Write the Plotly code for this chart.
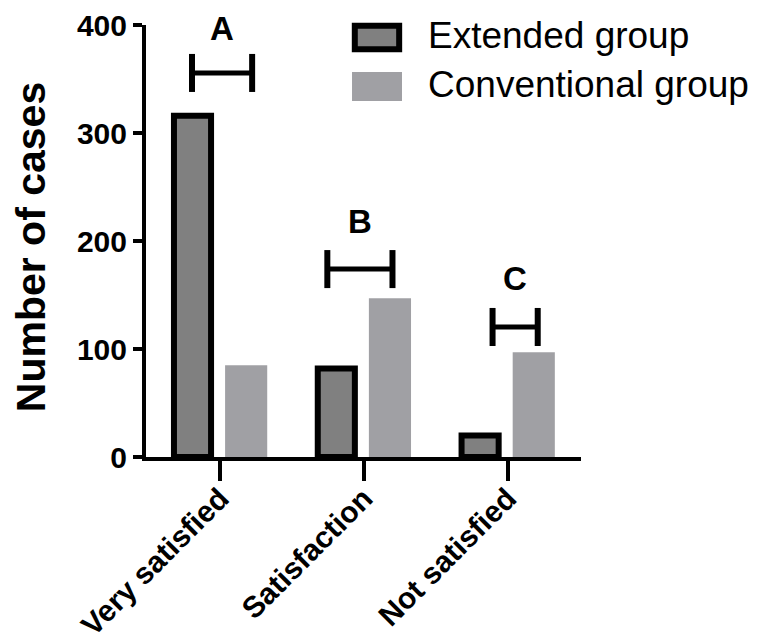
import plotly.graph_objects as go

# ---- data ----
categories = ["Very satisfied", "Satisfaction", "Not satisfied"]
extended = [316, 82, 20]
conventional = [85, 147, 97]
series_names = ["Extended group", "Conventional group"]
y_title = "Number of cases"

y_ticks = [0, 100, 200, 300, 400]

bracket_labels = ["A", "B", "C"]
bracket_x0 = [-0.195, 0.746, 1.895]
bracket_x1 = [0.223, 1.199, 2.209]
bracket_y = [355.6, 174.0, 120.4]
bracket_half = 17.6
label_y = [397.0, 218.0, 165.0]

# ---- styles ----
FONT = "Liberation Sans, Arial, sans-serif"
EXT_FILL = "#808080"
CONV_FILL = "#a0a0a4"

fig = go.Figure()
fig.add_trace(go.Bar(
    x=categories, y=extended, name=series_names[0],
    marker=dict(color=EXT_FILL, line=dict(color="black", width=6)),
    offset=-0.3206, width=0.258, showlegend=False,
))
fig.add_trace(go.Bar(
    x=categories, y=conventional, name=series_names[1],
    marker=dict(color=CONV_FILL, line=dict(width=0)),
    offset=0.035, width=0.293, showlegend=False,
))

shapes = []
annotations = []
for lab, x0, x1, yb, ly in zip(bracket_labels, bracket_x0, bracket_x1, bracket_y, label_y):
    ln = dict(color="black", width=5)
    shapes.append(dict(type="line", xref="x", yref="y", x0=x0, x1=x1, y0=yb, y1=yb, line=ln))
    shapes.append(dict(type="line", xref="x", yref="y", x0=x0, x1=x0,
                       y0=yb - bracket_half, y1=yb + bracket_half, line=dict(color="black", width=6)))
    shapes.append(dict(type="line", xref="x", yref="y", x0=x1, x1=x1,
                       y0=yb - bracket_half, y1=yb + bracket_half, line=dict(color="black", width=6)))
    annotations.append(dict(x=(x0 + x1) / 2, y=ly, xref="x", yref="y", text=lab, showarrow=False,
                            xanchor="center", yanchor="middle",
                            font=dict(family=FONT, size=33, color="black", weight="bold")))

# manual legend (large swatches like the original)
shapes.append(dict(type="rect", xref="paper", yref="paper", x0=0.480, x1=0.582, y0=0.944, y1=0.998,
                   fillcolor=EXT_FILL, line=dict(color="black", width=6)))
shapes.append(dict(type="rect", xref="paper", yref="paper", x0=0.4736, x1=0.5885, y0=0.824, y1=0.891,
                   fillcolor=CONV_FILL, line=dict(width=0)))
annotations.append(dict(x=0.644, y=0.976, xref="paper", yref="paper", text=series_names[0],
                        showarrow=False, xanchor="left", yanchor="middle",
                        font=dict(family=FONT, size=37, color="black")))
annotations.append(dict(x=0.644, y=0.862, xref="paper", yref="paper", text=series_names[1],
                        showarrow=False, xanchor="left", yanchor="middle",
                        font=dict(family=FONT, size=37, color="black")))
# y-axis title (slightly below the axis centre, as in the original)
annotations.append(dict(x=-0.264, y=0.486, xref="paper", yref="paper", text=y_title,
                        textangle=-90, showarrow=False, xanchor="center", yanchor="middle",
                        font=dict(family=FONT, size=41, color="black", weight="bold")))

# the page body has an 8px margin, so the figure is 8px smaller than the window
fig.update_layout(
    width=753, height=634,
    margin=dict(l=138, r=180, t=17, b=185),
    plot_bgcolor="white", paper_bgcolor="white",
    barmode="overlay",
    shapes=shapes, annotations=annotations,
    showlegend=False,
    font=dict(family=FONT, color="black"),
)
fig.update_xaxes(
    type="category", range=[-0.515, 2.51], automargin=False,
    showline=True, linewidth=4, linecolor="black",
    ticks="outside", ticklen=20, tickwidth=4, tickcolor="black",
    tickangle=-45, showgrid=False, zeroline=False, ticklabelstandoff=-12,
    tickfont=dict(family=FONT, size=30, color="black", weight="bold"),
)
fig.update_yaxes(
    range=[0, 400], tickvals=y_ticks, automargin=False,
    showline=True, linewidth=4, linecolor="black",
    ticks="outside", ticklen=9, tickwidth=4, tickcolor="black",
    showgrid=False, zeroline=False,
    tickfont=dict(family=FONT, size=30, color="black", weight="bold"),
)

fig.write_html("out.html")
